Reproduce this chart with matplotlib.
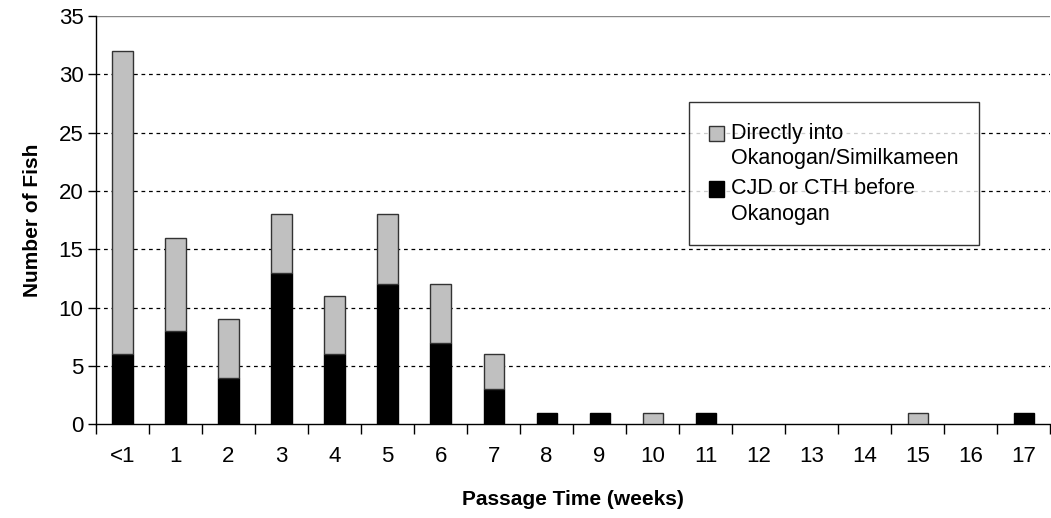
import numpy as np
import matplotlib.pyplot as plt
from matplotlib.patches import Patch, Rectangle
from matplotlib.legend_handler import HandlerPatch

plt.rcParams['font.family'] = ['Liberation Sans', 'DejaVu Sans']

# Passage time categories (weeks) and fish counts per route
weeks = ['<1', '1', '2', '3', '4', '5', '6', '7', '8', '9',
         '10', '11', '12', '13', '14', '15', '16', '17']
cjd_cth = [6, 8, 4, 13, 6, 12, 7, 3, 1, 1, 0, 1, 0, 0, 0, 0, 0, 1]
direct = [26, 8, 5, 5, 5, 6, 5, 3, 0, 0, 1, 0, 0, 0, 0, 1, 0, 0]

fig = plt.figure(figsize=(10.51, 5.18), dpi=100)
ax = fig.add_axes([0.0913, 0.181, 0.908, 0.788])

x = np.arange(len(weeks))
w = 0.38
# no outline for empty bars
lw_black = [1 if v > 0 else 0 for v in cjd_cth]
lw_gray = [1 if v > 0 else 0 for v in direct]
ax.bar(x, cjd_cth, width=w, color='black', edgecolor='black', linewidth=lw_black, zorder=3)
ax.bar(x, direct, width=w, bottom=cjd_cth, color='#c0c0c0', edgecolor='#333333',
       linewidth=lw_gray, zorder=3)

ax.set_xlim(-0.5, len(weeks) - 0.5)
ax.set_ylim(0, 35)
ax.set_yticks(range(0, 36, 5))
ax.tick_params(axis='y', labelsize=16, length=6, width=1, direction='out', pad=3)

# category labels centred, tick marks on boundaries
ax.set_xticks(x)
ax.set_xticklabels(weeks, fontsize=16)
ax.tick_params(axis='x', which='major', length=0, pad=16)
ax.set_xticks(np.arange(-0.5, len(weeks), 1), minor=True)
ax.tick_params(axis='x', which='minor', length=7, width=1, direction='out')

for yv in range(5, 35, 5):
    ax.axhline(yv, color='black', linestyle=(0, (3, 3)), linewidth=0.9, zorder=1)
ax.axhline(35, color='#888888', linewidth=1, zorder=1)

for s in ['top', 'right']:
    ax.spines[s].set_visible(False)
ax.spines['left'].set_linewidth(1)
ax.spines['bottom'].set_linewidth(1)

ax.set_ylabel('Number of Fish', fontsize=15, fontweight='bold', labelpad=12)
ax.set_xlabel('Passage Time (weeks)', fontsize=15, fontweight='bold', labelpad=16)


# legend squares sit next to the first line of each label
def top_square(legend, orig_handle, xdescent, ydescent, width, height, fontsize):
    return Rectangle((-xdescent, -ydescent + 0.6 * fontsize), width, height)


handles = [Patch(facecolor='#c0c0c0', edgecolor='#333333'),
           Patch(facecolor='black', edgecolor='black')]
labels = ['Directly into\nOkanogan/Similkameen', 'CJD or CTH before\nOkanogan']
leg = ax.legend(handles, labels, loc='upper left', bbox_to_anchor=(0.621, 0.789),
                fontsize=15.5, frameon=True, fancybox=False, handlelength=0.7,
                handleheight=0.7, handletextpad=0.3, labelspacing=0.4,
                borderpad=0.95, borderaxespad=0,
                handler_map={Patch: HandlerPatch(patch_func=top_square)})
leg.get_frame().set_edgecolor('black')
leg.get_frame().set_linewidth(1)
for t in leg.get_texts():
    t.set_linespacing(1.3)

fig.savefig('out.png', dpi=100)
